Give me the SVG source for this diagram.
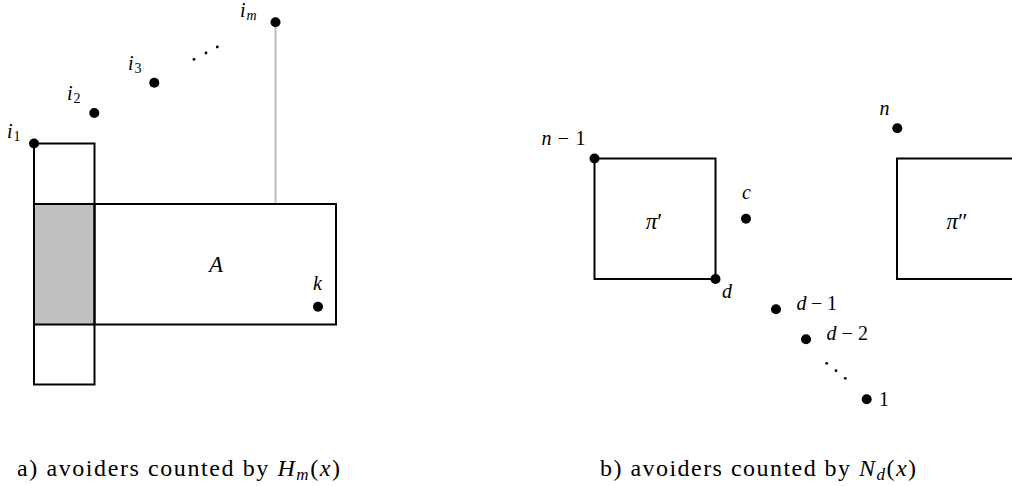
<svg xmlns="http://www.w3.org/2000/svg" width="1012" height="486" viewBox="0 0 1012 486">
<style>
.box{fill:none;stroke:#000;stroke-width:2}
.dot{fill:#000}
.sd{fill:#000}
.m{font-family:"Liberation Serif","Times New Roman",serif;font-style:italic;font-size:20px;fill:#000}
.big{font-size:23px}
.up{font-style:normal}
.r{font-family:"Liberation Serif","Times New Roman",serif;font-size:20px;fill:#000}
.cap{font-family:"Liberation Serif","Times New Roman",serif;font-size:24px;fill:#000}
.sub{font-size:14px}
.csub{font-size:17px}
</style>
<rect width="1012" height="486" fill="#fff"/>
<g id="connectors">
<line x1="275.5" y1="22" x2="275.5" y2="204" stroke="#bbb" stroke-width="2"/>
</g>
<g id="shaded">
<rect x="34" y="204" width="60.5" height="120.5" fill="#c0c0c0"/>
</g>
<g id="tall-box"><rect class="box" x="34" y="143.5" width="60.5" height="241"/>
<line x1="34" y1="204" x2="94.5" y2="204" stroke="#000" stroke-width="2"/>
<line x1="34" y1="324.5" x2="94.5" y2="324.5" stroke="#000" stroke-width="2"/></g>
<g id="A"><rect class="box" x="94.5" y="204" width="241.5" height="120.5"/>
<text class="m big" x="216" y="272" text-anchor="middle">A</text></g>
<g id="i1"><circle class="dot" cx="34" cy="143.5" r="5"/><text class="m" x="7" y="138">i<tspan class="sub up" dx="1" dy="3">1</tspan></text></g>
<g id="i2"><circle class="dot" cx="94.3" cy="113" r="5"/><text class="m" x="67" y="100">i<tspan class="sub up" dx="1" dy="3">2</tspan></text></g>
<g id="i3"><circle class="dot" cx="154.3" cy="82.7" r="5"/><text class="m" x="128" y="70">i<tspan class="sub up" dx="1" dy="3">3</tspan></text></g>
<g id="dots-a"><circle class="sd" cx="194" cy="59.3" r="1.4"/><circle class="sd" cx="206" cy="53" r="1.4"/><circle class="sd" cx="217.3" cy="47" r="1.4"/></g>
<g id="im"><circle class="dot" cx="275.5" cy="22.3" r="5"/><text class="m" x="240" y="17">i<tspan class="sub" dx="1" dy="3">m</tspan></text></g>
<g id="k"><circle class="dot" cx="318" cy="306.7" r="5"/><text class="m" x="317.5" y="290" text-anchor="middle">k</text></g>
<g id="pi1"><rect class="box" x="594.5" y="158.5" width="121" height="120.5"/>
<text class="m big" x="654" y="229" text-anchor="middle">π<tspan class="up">′</tspan></text></g>
<g id="pi2"><rect class="box" x="897" y="158.5" width="130" height="120.5"/>
<text class="m big" x="957" y="229" text-anchor="middle">π<tspan class="up">″</tspan></text></g>
<g id="n-1"><circle class="dot" cx="594.5" cy="158.5" r="5"/><text class="m" x="541.5" y="145" textLength="44" lengthAdjust="spacing">n<tspan class="up">−1</tspan></text></g>
<g id="c"><circle class="dot" cx="746" cy="218.7" r="5"/><text class="m" x="746.5" y="199" text-anchor="middle">c</text></g>
<g id="d"><circle class="dot" cx="715.5" cy="279" r="5"/><text class="m" x="727" y="298" text-anchor="middle">d</text></g>
<g id="n"><circle class="dot" cx="897.3" cy="128.3" r="5"/><text class="m" x="884.5" y="115" text-anchor="middle">n</text></g>
<g id="d-1"><circle class="dot" cx="776" cy="309.3" r="5"/><text class="m" x="796.5" y="310" textLength="40.5" lengthAdjust="spacing">d<tspan class="up">−1</tspan></text></g>
<g id="d-2"><circle class="dot" cx="806" cy="339.3" r="5"/><text class="m" x="826.5" y="340" textLength="41.5" lengthAdjust="spacing">d<tspan class="up">−2</tspan></text></g>
<g id="dots-b"><circle class="sd" cx="826.7" cy="363.3" r="1.4"/><circle class="sd" cx="836" cy="370.7" r="1.4"/><circle class="sd" cx="845.3" cy="378.3" r="1.4"/></g>
<g id="one"><circle class="dot" cx="866.7" cy="399.3" r="5"/><text class="r" x="879" y="406">1</text></g>
<g id="caption-a"><text class="cap" x="17" y="476" textLength="323" lengthAdjust="spacing">a) avoiders counted by <tspan font-style="italic">H</tspan><tspan class="csub" font-style="italic" dy="4">m</tspan><tspan dy="-4">(</tspan><tspan font-style="italic">x</tspan>)</text></g>
<g id="caption-b"><text class="cap" x="600" y="476" textLength="316" lengthAdjust="spacing">b) avoiders counted by <tspan font-style="italic">N</tspan><tspan class="csub" font-style="italic" dy="4">d</tspan><tspan dy="-4">(</tspan><tspan font-style="italic">x</tspan>)</text></g>
</svg>
